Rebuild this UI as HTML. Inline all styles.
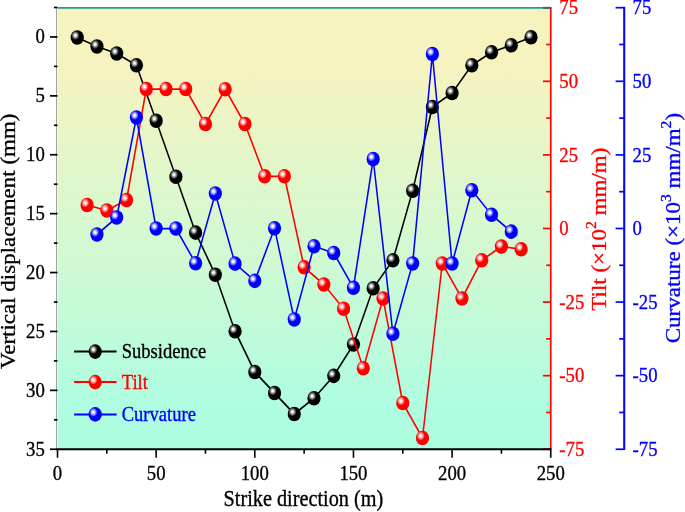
<!DOCTYPE html>
<html><head><meta charset="utf-8"><title>chart</title>
<style>html,body{margin:0;padding:0;background:#fff;}svg{display:block;will-change:transform;}text{font-family:"Liberation Serif",serif;stroke-width:0.35px;}</style></head><body>
<svg width="685" height="512" viewBox="0 0 778.409 512" preserveAspectRatio="none">
<defs>
<linearGradient id="bg" x1="0" y1="0" x2="0" y2="1"><stop offset="0" stop-color="#f7f3bf"/><stop offset="0.13" stop-color="#f6f3c0"/><stop offset="0.55" stop-color="#d2f9d2"/><stop offset="0.88" stop-color="#b0fde0"/><stop offset="1" stop-color="#adfde1"/></linearGradient>
<radialGradient id="gk" cx="0.36" cy="0.355" r="0.31"><stop offset="0" stop-color="#ffffff"/><stop offset="0.18" stop-color="#ffffff"/><stop offset="0.55" stop-color="#8a8a8a"/><stop offset="1" stop-color="#000000"/></radialGradient>
<radialGradient id="gr" cx="0.36" cy="0.355" r="0.31"><stop offset="0" stop-color="#ffffff"/><stop offset="0.18" stop-color="#ffffff"/><stop offset="0.55" stop-color="#ff9a9a"/><stop offset="1" stop-color="#ff0000"/></radialGradient>
<radialGradient id="gb" cx="0.36" cy="0.355" r="0.31"><stop offset="0" stop-color="#ffffff"/><stop offset="0.18" stop-color="#ffffff"/><stop offset="0.55" stop-color="#9a9aff"/><stop offset="1" stop-color="#0000ff"/></radialGradient>
</defs>
<rect x="0" y="0" width="778.409" height="512" fill="#ffffff"/>
<rect x="65.34" y="7.5" width="560.51" height="441.75" fill="url(#bg)"/>
<line x1="64.20" y1="8.5" x2="64.20" y2="449.25" stroke="#a2a2a2" stroke-width="1.15"/>
<line x1="61.25" y1="7.50" x2="65.34" y2="7.50" stroke="#000" stroke-width="1.7"/>
<line x1="56.82" y1="36.95" x2="65.34" y2="36.95" stroke="#000" stroke-width="1.7"/>
<line x1="61.25" y1="66.40" x2="65.34" y2="66.40" stroke="#000" stroke-width="1.7"/>
<line x1="56.82" y1="95.85" x2="65.34" y2="95.85" stroke="#000" stroke-width="1.7"/>
<line x1="61.25" y1="125.30" x2="65.34" y2="125.30" stroke="#000" stroke-width="1.7"/>
<line x1="56.82" y1="154.75" x2="65.34" y2="154.75" stroke="#000" stroke-width="1.7"/>
<line x1="61.25" y1="184.20" x2="65.34" y2="184.20" stroke="#000" stroke-width="1.7"/>
<line x1="56.82" y1="213.65" x2="65.34" y2="213.65" stroke="#000" stroke-width="1.7"/>
<line x1="61.25" y1="243.10" x2="65.34" y2="243.10" stroke="#000" stroke-width="1.7"/>
<line x1="56.82" y1="272.55" x2="65.34" y2="272.55" stroke="#000" stroke-width="1.7"/>
<line x1="61.25" y1="302.00" x2="65.34" y2="302.00" stroke="#000" stroke-width="1.7"/>
<line x1="56.82" y1="331.45" x2="65.34" y2="331.45" stroke="#000" stroke-width="1.7"/>
<line x1="61.25" y1="360.90" x2="65.34" y2="360.90" stroke="#000" stroke-width="1.7"/>
<line x1="56.82" y1="390.35" x2="65.34" y2="390.35" stroke="#000" stroke-width="1.7"/>
<line x1="61.25" y1="419.80" x2="65.34" y2="419.80" stroke="#000" stroke-width="1.7"/>
<line x1="56.82" y1="449.25" x2="65.34" y2="449.25" stroke="#000" stroke-width="1.7"/>
<line x1="625.85" y1="8.1" x2="625.85" y2="449.25" stroke="#ff0000" stroke-width="1.9"/>
<line x1="616.99" y1="449.25" x2="625.85" y2="449.25" stroke="#ff0000" stroke-width="1.7"/>
<line x1="620.74" y1="412.45" x2="625.85" y2="412.45" stroke="#ff0000" stroke-width="1.7"/>
<line x1="616.99" y1="375.66" x2="625.85" y2="375.66" stroke="#ff0000" stroke-width="1.7"/>
<line x1="620.74" y1="338.86" x2="625.85" y2="338.86" stroke="#ff0000" stroke-width="1.7"/>
<line x1="616.99" y1="302.07" x2="625.85" y2="302.07" stroke="#ff0000" stroke-width="1.7"/>
<line x1="620.74" y1="265.27" x2="625.85" y2="265.27" stroke="#ff0000" stroke-width="1.7"/>
<line x1="616.99" y1="228.47" x2="625.85" y2="228.47" stroke="#ff0000" stroke-width="1.7"/>
<line x1="620.74" y1="191.68" x2="625.85" y2="191.68" stroke="#ff0000" stroke-width="1.7"/>
<line x1="616.99" y1="154.88" x2="625.85" y2="154.88" stroke="#ff0000" stroke-width="1.7"/>
<line x1="620.74" y1="118.09" x2="625.85" y2="118.09" stroke="#ff0000" stroke-width="1.7"/>
<line x1="616.99" y1="81.29" x2="625.85" y2="81.29" stroke="#ff0000" stroke-width="1.7"/>
<line x1="620.74" y1="44.50" x2="625.85" y2="44.50" stroke="#ff0000" stroke-width="1.7"/>
<line x1="616.99" y1="7.70" x2="625.85" y2="7.70" stroke="#ff0000" stroke-width="1.7"/>
<line x1="709.32" y1="6.8500000000000005" x2="709.32" y2="450.1" stroke="#0000ff" stroke-width="2.3"/>
<line x1="699.55" y1="449.25" x2="709.32" y2="449.25" stroke="#0000ff" stroke-width="1.7"/>
<line x1="703.64" y1="412.45" x2="709.32" y2="412.45" stroke="#0000ff" stroke-width="1.7"/>
<line x1="699.55" y1="375.66" x2="709.32" y2="375.66" stroke="#0000ff" stroke-width="1.7"/>
<line x1="703.64" y1="338.86" x2="709.32" y2="338.86" stroke="#0000ff" stroke-width="1.7"/>
<line x1="699.55" y1="302.07" x2="709.32" y2="302.07" stroke="#0000ff" stroke-width="1.7"/>
<line x1="703.64" y1="265.27" x2="709.32" y2="265.27" stroke="#0000ff" stroke-width="1.7"/>
<line x1="699.55" y1="228.47" x2="709.32" y2="228.47" stroke="#0000ff" stroke-width="1.7"/>
<line x1="703.64" y1="191.68" x2="709.32" y2="191.68" stroke="#0000ff" stroke-width="1.7"/>
<line x1="699.55" y1="154.88" x2="709.32" y2="154.88" stroke="#0000ff" stroke-width="1.7"/>
<line x1="703.64" y1="118.09" x2="709.32" y2="118.09" stroke="#0000ff" stroke-width="1.7"/>
<line x1="699.55" y1="81.29" x2="709.32" y2="81.29" stroke="#0000ff" stroke-width="1.7"/>
<line x1="703.64" y1="44.50" x2="709.32" y2="44.50" stroke="#0000ff" stroke-width="1.7"/>
<line x1="699.55" y1="7.70" x2="709.32" y2="7.70" stroke="#0000ff" stroke-width="1.7"/>
<line x1="64.20" y1="449.25" x2="626.53" y2="449.25" stroke="#000" stroke-width="2"/>
<line x1="65.34" y1="449.25" x2="65.34" y2="457.75" stroke="#000" stroke-width="1.8"/>
<line x1="121.39" y1="449.25" x2="121.39" y2="453.75" stroke="#000" stroke-width="1.8"/>
<line x1="177.44" y1="449.25" x2="177.44" y2="457.75" stroke="#000" stroke-width="1.8"/>
<line x1="233.49" y1="449.25" x2="233.49" y2="453.75" stroke="#000" stroke-width="1.8"/>
<line x1="289.55" y1="449.25" x2="289.55" y2="457.75" stroke="#000" stroke-width="1.8"/>
<line x1="345.60" y1="449.25" x2="345.60" y2="453.75" stroke="#000" stroke-width="1.8"/>
<line x1="401.65" y1="449.25" x2="401.65" y2="457.75" stroke="#000" stroke-width="1.8"/>
<line x1="457.70" y1="449.25" x2="457.70" y2="453.75" stroke="#000" stroke-width="1.8"/>
<line x1="513.75" y1="449.25" x2="513.75" y2="457.75" stroke="#000" stroke-width="1.8"/>
<line x1="569.80" y1="449.25" x2="569.80" y2="453.75" stroke="#000" stroke-width="1.8"/>
<line x1="625.85" y1="449.25" x2="625.85" y2="457.75" stroke="#000" stroke-width="1.8"/>
<line x1="65.34" y1="7.9" x2="624.94" y2="7.9" stroke="#2a9a90" stroke-width="1.8"/>
<line x1="616.99" y1="7.9" x2="626.88" y2="7.9" stroke="#33706b" stroke-width="1.8"/>
<text x="65.34" y="480.3" font-size="21.3" text-anchor="middle" fill="#000" stroke="#000">0</text>
<text x="177.44" y="480.3" font-size="21.3" text-anchor="middle" fill="#000" stroke="#000">50</text>
<text x="289.55" y="480.3" font-size="21.3" text-anchor="middle" fill="#000" stroke="#000">100</text>
<text x="401.65" y="480.3" font-size="21.3" text-anchor="middle" fill="#000" stroke="#000">150</text>
<text x="513.75" y="480.3" font-size="21.3" text-anchor="middle" fill="#000" stroke="#000">200</text>
<text x="625.85" y="480.3" font-size="21.3" text-anchor="middle" fill="#000" stroke="#000">250</text>
<text x="50.91" y="43.35" font-size="21.3" text-anchor="end" fill="#000" stroke="#000">0</text>
<text x="50.91" y="102.25" font-size="21.3" text-anchor="end" fill="#000" stroke="#000">5</text>
<text x="50.91" y="161.15" font-size="21.3" text-anchor="end" fill="#000" stroke="#000">10</text>
<text x="50.91" y="220.05" font-size="21.3" text-anchor="end" fill="#000" stroke="#000">15</text>
<text x="50.91" y="278.95" font-size="21.3" text-anchor="end" fill="#000" stroke="#000">20</text>
<text x="50.91" y="337.85" font-size="21.3" text-anchor="end" fill="#000" stroke="#000">25</text>
<text x="50.91" y="396.75" font-size="21.3" text-anchor="end" fill="#000" stroke="#000">30</text>
<text x="50.91" y="455.65" font-size="21.3" text-anchor="end" fill="#000" stroke="#000">35</text>
<text x="635.57" y="455.95" font-size="21.3" text-anchor="start" fill="#ff0000" stroke="#ff0000">-75</text>
<text x="718.86" y="455.95" font-size="21.3" text-anchor="start" fill="#0000ff" stroke="#0000ff">-75</text>
<text x="635.57" y="382.36" font-size="21.3" text-anchor="start" fill="#ff0000" stroke="#ff0000">-50</text>
<text x="718.86" y="382.36" font-size="21.3" text-anchor="start" fill="#0000ff" stroke="#0000ff">-50</text>
<text x="635.57" y="308.77" font-size="21.3" text-anchor="start" fill="#ff0000" stroke="#ff0000">-25</text>
<text x="718.86" y="308.77" font-size="21.3" text-anchor="start" fill="#0000ff" stroke="#0000ff">-25</text>
<text x="635.57" y="235.17" font-size="21.3" text-anchor="start" fill="#ff0000" stroke="#ff0000">0</text>
<text x="718.86" y="235.17" font-size="21.3" text-anchor="start" fill="#0000ff" stroke="#0000ff">0</text>
<text x="635.57" y="161.58" font-size="21.3" text-anchor="start" fill="#ff0000" stroke="#ff0000">25</text>
<text x="718.86" y="161.58" font-size="21.3" text-anchor="start" fill="#0000ff" stroke="#0000ff">25</text>
<text x="635.57" y="87.99" font-size="21.3" text-anchor="start" fill="#ff0000" stroke="#ff0000">50</text>
<text x="718.86" y="87.99" font-size="21.3" text-anchor="start" fill="#0000ff" stroke="#0000ff">50</text>
<text x="635.57" y="13.70" font-size="21.3" text-anchor="start" fill="#ff0000" stroke="#ff0000">75</text>
<text x="718.86" y="13.70" font-size="21.3" text-anchor="start" fill="#0000ff" stroke="#0000ff">75</text>
<text x="344.77" y="506.4" font-size="23" text-anchor="middle" fill="#000" stroke="#000">Strike direction (m)</text>
<text transform="translate(17.61,241.2) rotate(-90)" font-size="23" text-anchor="middle" fill="#000" stroke="#000">Vertical displacement (mm)</text>
<text transform="translate(688.07,229.2) rotate(-90)" font-size="23" text-anchor="middle" fill="#ff0000" stroke="#ff0000">Tilt (×10<tspan font-size="15.6" dy="-11">2</tspan><tspan dy="11"> mm/m)</tspan></text>
<text transform="translate(772.95,228.1) rotate(-90)" font-size="23" text-anchor="middle" fill="#0000ff" stroke="#0000ff">Curvature (×10<tspan font-size="15.6" dy="-11">3</tspan><tspan dy="11"> mm/m</tspan><tspan font-size="15.6" dy="-11">2</tspan><tspan dy="11">)</tspan></text>
<polyline points="87.76,37.50 110.18,46.50 132.60,53.50 155.02,65.25 177.44,120.75 199.86,176.75 222.28,232.65 244.70,274.75 267.12,331.25 289.55,372.00 311.97,393.00 334.39,414.00 356.81,398.25 379.23,375.85 401.65,344.50 424.07,288.25 446.49,260.25 468.91,190.75 491.33,107.00 513.75,93.00 536.17,65.25 558.59,52.25 581.01,45.25 603.43,37.25" fill="none" stroke="#000000" stroke-width="1.75" stroke-linejoin="round"/>
<ellipse cx="87.76" cy="37.50" rx="7.5" ry="7.35" fill="url(#gk)"/>
<ellipse cx="110.18" cy="46.50" rx="7.5" ry="7.35" fill="url(#gk)"/>
<ellipse cx="132.60" cy="53.50" rx="7.5" ry="7.35" fill="url(#gk)"/>
<ellipse cx="155.02" cy="65.25" rx="7.5" ry="7.35" fill="url(#gk)"/>
<ellipse cx="177.44" cy="120.75" rx="7.5" ry="7.35" fill="url(#gk)"/>
<ellipse cx="199.86" cy="176.75" rx="7.5" ry="7.35" fill="url(#gk)"/>
<ellipse cx="222.28" cy="232.65" rx="7.5" ry="7.35" fill="url(#gk)"/>
<ellipse cx="244.70" cy="274.75" rx="7.5" ry="7.35" fill="url(#gk)"/>
<ellipse cx="267.12" cy="331.25" rx="7.5" ry="7.35" fill="url(#gk)"/>
<ellipse cx="289.55" cy="372.00" rx="7.5" ry="7.35" fill="url(#gk)"/>
<ellipse cx="311.97" cy="393.00" rx="7.5" ry="7.35" fill="url(#gk)"/>
<ellipse cx="334.39" cy="414.00" rx="7.5" ry="7.35" fill="url(#gk)"/>
<ellipse cx="356.81" cy="398.25" rx="7.5" ry="7.35" fill="url(#gk)"/>
<ellipse cx="379.23" cy="375.85" rx="7.5" ry="7.35" fill="url(#gk)"/>
<ellipse cx="401.65" cy="344.50" rx="7.5" ry="7.35" fill="url(#gk)"/>
<ellipse cx="424.07" cy="288.25" rx="7.5" ry="7.35" fill="url(#gk)"/>
<ellipse cx="446.49" cy="260.25" rx="7.5" ry="7.35" fill="url(#gk)"/>
<ellipse cx="468.91" cy="190.75" rx="7.5" ry="7.35" fill="url(#gk)"/>
<ellipse cx="491.33" cy="107.00" rx="7.5" ry="7.35" fill="url(#gk)"/>
<ellipse cx="513.75" cy="93.00" rx="7.5" ry="7.35" fill="url(#gk)"/>
<ellipse cx="536.17" cy="65.25" rx="7.5" ry="7.35" fill="url(#gk)"/>
<ellipse cx="558.59" cy="52.25" rx="7.5" ry="7.35" fill="url(#gk)"/>
<ellipse cx="581.01" cy="45.25" rx="7.5" ry="7.35" fill="url(#gk)"/>
<ellipse cx="603.43" cy="37.25" rx="7.5" ry="7.35" fill="url(#gk)"/>
<polyline points="98.97,205.00 121.39,210.50 143.81,200.00 166.23,89.00 188.65,89.00 211.07,89.00 233.49,124.00 255.91,89.25 278.34,124.00 300.76,176.25 323.18,176.25 345.60,267.25 368.02,284.50 390.44,308.75 412.86,368.25 435.28,298.50 457.70,403.00 480.12,438.00 502.54,263.50 524.96,298.50 547.38,260.25 569.80,246.55 592.22,249.25" fill="none" stroke="#ff0000" stroke-width="1.75" stroke-linejoin="round"/>
<ellipse cx="98.97" cy="205.00" rx="7.5" ry="7.35" fill="url(#gr)"/>
<ellipse cx="121.39" cy="210.50" rx="7.5" ry="7.35" fill="url(#gr)"/>
<ellipse cx="143.81" cy="200.00" rx="7.5" ry="7.35" fill="url(#gr)"/>
<ellipse cx="166.23" cy="89.00" rx="7.5" ry="7.35" fill="url(#gr)"/>
<ellipse cx="188.65" cy="89.00" rx="7.5" ry="7.35" fill="url(#gr)"/>
<ellipse cx="211.07" cy="89.00" rx="7.5" ry="7.35" fill="url(#gr)"/>
<ellipse cx="233.49" cy="124.00" rx="7.5" ry="7.35" fill="url(#gr)"/>
<ellipse cx="255.91" cy="89.25" rx="7.5" ry="7.35" fill="url(#gr)"/>
<ellipse cx="278.34" cy="124.00" rx="7.5" ry="7.35" fill="url(#gr)"/>
<ellipse cx="300.76" cy="176.25" rx="7.5" ry="7.35" fill="url(#gr)"/>
<ellipse cx="323.18" cy="176.25" rx="7.5" ry="7.35" fill="url(#gr)"/>
<ellipse cx="345.60" cy="267.25" rx="7.5" ry="7.35" fill="url(#gr)"/>
<ellipse cx="368.02" cy="284.50" rx="7.5" ry="7.35" fill="url(#gr)"/>
<ellipse cx="390.44" cy="308.75" rx="7.5" ry="7.35" fill="url(#gr)"/>
<ellipse cx="412.86" cy="368.25" rx="7.5" ry="7.35" fill="url(#gr)"/>
<ellipse cx="435.28" cy="298.50" rx="7.5" ry="7.35" fill="url(#gr)"/>
<ellipse cx="457.70" cy="403.00" rx="7.5" ry="7.35" fill="url(#gr)"/>
<ellipse cx="480.12" cy="438.00" rx="7.5" ry="7.35" fill="url(#gr)"/>
<ellipse cx="502.54" cy="263.50" rx="7.5" ry="7.35" fill="url(#gr)"/>
<ellipse cx="524.96" cy="298.50" rx="7.5" ry="7.35" fill="url(#gr)"/>
<ellipse cx="547.38" cy="260.25" rx="7.5" ry="7.35" fill="url(#gr)"/>
<ellipse cx="569.80" cy="246.55" rx="7.5" ry="7.35" fill="url(#gr)"/>
<ellipse cx="592.22" cy="249.25" rx="7.5" ry="7.35" fill="url(#gr)"/>
<polyline points="110.18,234.50 132.60,217.50 155.02,117.50 177.44,228.50 199.86,228.50 222.28,263.25 244.70,193.50 267.12,263.65 289.55,280.85 311.97,228.25 334.39,319.50 356.81,246.25 379.23,253.00 401.65,287.75 424.07,159.00 446.49,333.75 468.91,263.50 491.33,54.00 513.75,263.50 536.17,190.25 558.59,214.75 581.01,231.65" fill="none" stroke="#0000ff" stroke-width="1.75" stroke-linejoin="round"/>
<ellipse cx="110.18" cy="234.50" rx="7.5" ry="7.35" fill="url(#gb)"/>
<ellipse cx="132.60" cy="217.50" rx="7.5" ry="7.35" fill="url(#gb)"/>
<ellipse cx="155.02" cy="117.50" rx="7.5" ry="7.35" fill="url(#gb)"/>
<ellipse cx="177.44" cy="228.50" rx="7.5" ry="7.35" fill="url(#gb)"/>
<ellipse cx="199.86" cy="228.50" rx="7.5" ry="7.35" fill="url(#gb)"/>
<ellipse cx="222.28" cy="263.25" rx="7.5" ry="7.35" fill="url(#gb)"/>
<ellipse cx="244.70" cy="193.50" rx="7.5" ry="7.35" fill="url(#gb)"/>
<ellipse cx="267.12" cy="263.65" rx="7.5" ry="7.35" fill="url(#gb)"/>
<ellipse cx="289.55" cy="280.85" rx="7.5" ry="7.35" fill="url(#gb)"/>
<ellipse cx="311.97" cy="228.25" rx="7.5" ry="7.35" fill="url(#gb)"/>
<ellipse cx="334.39" cy="319.50" rx="7.5" ry="7.35" fill="url(#gb)"/>
<ellipse cx="356.81" cy="246.25" rx="7.5" ry="7.35" fill="url(#gb)"/>
<ellipse cx="379.23" cy="253.00" rx="7.5" ry="7.35" fill="url(#gb)"/>
<ellipse cx="401.65" cy="287.75" rx="7.5" ry="7.35" fill="url(#gb)"/>
<ellipse cx="424.07" cy="159.00" rx="7.5" ry="7.35" fill="url(#gb)"/>
<ellipse cx="446.49" cy="333.75" rx="7.5" ry="7.35" fill="url(#gb)"/>
<ellipse cx="468.91" cy="263.50" rx="7.5" ry="7.35" fill="url(#gb)"/>
<ellipse cx="491.33" cy="54.00" rx="7.5" ry="7.35" fill="url(#gb)"/>
<ellipse cx="513.75" cy="263.50" rx="7.5" ry="7.35" fill="url(#gb)"/>
<ellipse cx="536.17" cy="190.25" rx="7.5" ry="7.35" fill="url(#gb)"/>
<ellipse cx="558.59" cy="214.75" rx="7.5" ry="7.35" fill="url(#gb)"/>
<ellipse cx="581.01" cy="231.65" rx="7.5" ry="7.35" fill="url(#gb)"/>
<line x1="84.20" y1="351.6" x2="132.50" y2="351.6" stroke="#000000" stroke-width="2"/>
<ellipse cx="108.18" cy="351.6" rx="7.5" ry="7.35" fill="url(#gk)"/>
<text x="138.30" y="358.3" font-size="21.1" fill="#000000" stroke="#000000">Subsidence</text>
<line x1="84.20" y1="382.1" x2="132.50" y2="382.1" stroke="#ff0000" stroke-width="2"/>
<ellipse cx="108.18" cy="382.1" rx="7.5" ry="7.35" fill="url(#gr)"/>
<text x="138.30" y="389.40000000000003" font-size="21.1" fill="#ff0000" stroke="#ff0000">Tilt</text>
<line x1="84.20" y1="414.4" x2="132.50" y2="414.4" stroke="#0000ff" stroke-width="2"/>
<ellipse cx="108.18" cy="414.4" rx="7.5" ry="7.35" fill="url(#gb)"/>
<text x="138.30" y="421.3" font-size="21.1" fill="#0000ff" stroke="#0000ff">Curvature</text>
</svg></body></html>
